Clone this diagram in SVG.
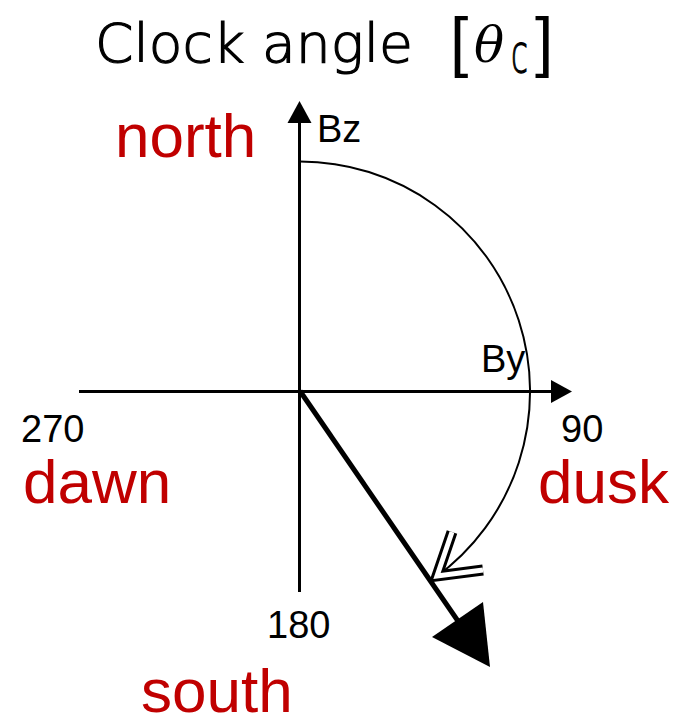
<svg xmlns="http://www.w3.org/2000/svg" width="679" height="721" viewBox="0 0 679 721">
<style>
.lbl{font-family:"Liberation Sans",Arial,sans-serif;font-size:62px;fill:#c00000}
.num{font-family:"Liberation Sans",Arial,sans-serif;font-size:38px;fill:#000}
.ttl{font-family:"DejaVu Sans","Liberation Sans",sans-serif;font-size:54px;font-weight:200;fill:#000;stroke:#000;stroke-width:1.2}
.brk{font-family:"Liberation Sans",Arial,sans-serif;font-size:66px;fill:#000}
.ax{stroke:#000;stroke-width:3;fill:none}
</style>
<rect width="679" height="721" fill="#fff"/>
<g id="title">
<text class="ttl" x="95" y="62" textLength="318" lengthAdjust="spacingAndGlyphs">Clock angle</text>
<text class="brk" x="450" y="64">[</text>
<text x="474" y="62" font-family="DejaVu Serif,serif" font-style="italic" font-weight="400" font-size="50">θ</text>
<text class="ttl" x="511" y="72" font-size="46" textLength="17" lengthAdjust="spacingAndGlyphs">c</text>
<text class="brk" x="535" y="64">]</text>
</g>
<g id="connectors">
<line class="ax" x1="299.5" y1="118" x2="299.5" y2="592"/>
<polygon points="299.5,101 287.5,123 311.5,123" fill="#000"/>
<line class="ax" x1="79" y1="391.5" x2="555" y2="391.5"/>
<polygon points="572,391.5 551,380 551,403" fill="#000"/>
<path d="M299.5 161.5 A230 230 0 0 1 435.2 577.6" stroke="#000" stroke-width="2" fill="none"/>
<polyline points="452,532 437,576 483,570" fill="none" stroke="#000" stroke-width="11" stroke-linejoin="miter"/>
<polyline points="452,532 437,576 483,570" fill="none" stroke="#fff" stroke-width="5" stroke-linejoin="miter"/>
<line x1="300" y1="391" x2="460" y2="624" stroke="#000" stroke-width="5"/>
<polygon points="490,667 432,637 483,602" fill="#000"/>
</g>
<g id="labels">
<text class="num" x="317" y="142">Bz</text>
<text class="num" x="481" y="372">By</text>
<text class="num" x="21" y="442">270</text>
<text class="num" x="561" y="442">90</text>
<text class="num" x="267" y="638">180</text>
</g>
<g id="north"><text class="lbl" x="115" y="157">north</text></g>
<g id="dawn"><text class="lbl" x="23" y="503">dawn</text></g>
<g id="dusk"><text class="lbl" x="538" y="503">dusk</text></g>
<g id="south"><text class="lbl" x="141" y="712">south</text></g>
</svg>
